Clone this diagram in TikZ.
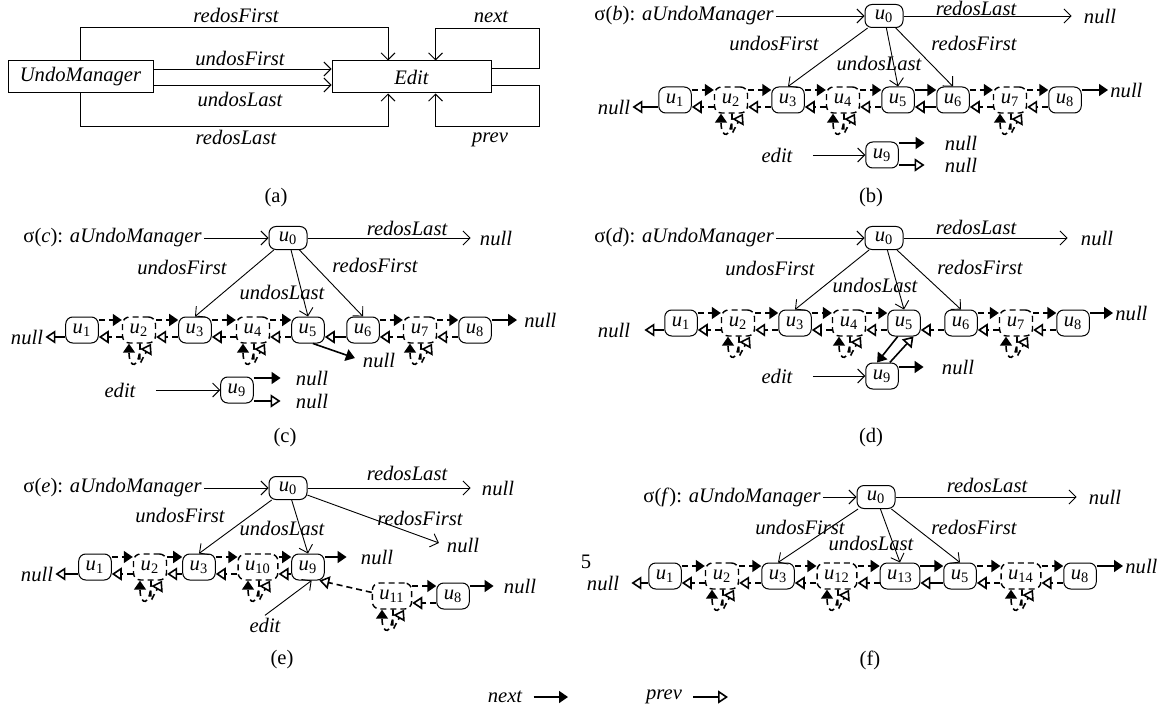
\documentclass[tikz,border=0pt]{standalone}
\usepackage{fontspec}
\setmainfont{Liberation Serif}
\usetikzlibrary{arrows.meta}

\begin{document}
\begin{tikzpicture}[x=0.5pt,y=-0.5pt,
  every node/.style={font=\fontsize{10.3}{12}\selectfont, inner sep=1pt},
  lbl/.style={font=\fontsize{10.3}{12}\selectfont\itshape},
  box/.style={draw, line width=0.5pt, minimum height=16pt, inner sep=0pt},
  obj/.style={draw, line width=0.5pt, rounded corners=3.5pt, minimum width=14.5pt, minimum height=13pt, inner xsep=3.5pt, inner ysep=1pt},
  dobj/.style={obj, line width=0.7pt, dash pattern=on 3pt off 2pt, minimum width=16.5pt},
  top/.style={obj, minimum width=19pt, minimum height=11.5pt},
  dsh/.style={dash pattern=on 3pt off 2pt},
  ref/.style={-{Straight Barb[length=3.5pt,width=7pt]}, line width=0.45pt},
  nxt/.style={-{Triangle[length=4.5pt,width=6pt]}, line width=0.8pt},
  prv/.style={-{Triangle[open,length=5pt,width=6.5pt]}, line width=0.8pt},
]
\useasboundingbox (0,0) rectangle (1166,711);

% (a) class view
\node[box, lbl, minimum width=72.5pt] (um) at (80.5,77) {UndoManager};
\node[box, lbl, minimum width=79.5pt] (ed) at (411.5,77) {Edit};
\draw[ref] (um.north) -- ++(0,-33) -| ([xshift=-11.75pt]ed.north);
\draw[ref] (um.south) -- ++(0,33) -| ([xshift=-11.75pt]ed.south);
\draw[ref] ([yshift=4pt]um.east) -- ([yshift=4pt]ed.west);
\draw[ref] ([yshift=-4pt]um.east) -- ([yshift=-4pt]ed.west);
\draw[ref] ([yshift=4.5pt]ed.east) -| ++(48,-40) -| ([xshift=12pt]ed.north);
\draw[ref] ([yshift=-4pt]ed.east) -| ++(48,41) -| ([xshift=12pt]ed.south);
\node[lbl] (arf) at (236,15) {redosFirst};
\node[lbl] (auf) at (240,58) {undosFirst};
\node[lbl] (aul) at (240,99) {undosLast};
\node[lbl] (arl) at (236,137) {redosLast};
\node[lbl] (anx) at (491,17) {next};
\node[lbl] (apv) at (490,140) {prev};
\node (acap) at (276,198) {(a)};

% (b)
\node[anchor=west] (bsig) at (592,16) {σ(\textit{b}): \textit{aUndoManager}};
\node[top] (b0) at (884,16) {\textit{u}\textsubscript{0}};
\node[lbl] (bnull0) at (1100,16) {null};
\draw[ref] (bsig) -- (b0);
\draw[ref, shorten >=5pt] (b0) -- (bnull0);
\node[lbl] (brl) at (976,8) {redosLast};
\node[lbl] (buf) at (774,43) {undosFirst};
\node[lbl] (bul) at (879,63) {undosLast};
\node[lbl] (brf) at (974,43) {redosFirst};
\foreach \i/\x/\st in {1/675/obj,2/731/dobj,3/788/obj,4/843/dobj,5/898/obj,6/953/obj,7/1010/dobj,8/1065/obj}
  \node[\st] (b\i) at (\x,100) {\textit{u}\textsubscript{\i}};
\draw[ref] (b0) -- (b3.north);
\draw[ref] (b0) -- (b5.north);
\draw[ref] (b0) -- (b6.north);
\foreach \p/\q/\st in {b1/b2/dsh,b2/b3/dsh,b3/b4/dsh,b4/b5/dsh,b5/b6/solid,b6/b7/dsh,b7/b8/dsh} {
  \draw[nxt,\st] ([yshift=5pt]\p.east) -- ([yshift=5pt]\q.west);
  \draw[prv,\st] ([yshift=-3.5pt]\q.west) -- ([yshift=-3.5pt]\p.east);
}
\node[lbl] (bnull1) at (614,107) {null};
\draw[prv] ([yshift=-3.5pt]b1.west) -- (bnull1.east);
\node[lbl, anchor=west] (bnull2) at (1108,90) {null};
\draw[nxt] ([yshift=5pt]b8.east) -- (bnull2.west);
\node[lbl] (bedit) at (777,155) {edit};
\node[obj] (b9) at (882,155) {\textit{u}\textsubscript{9}};
\draw[ref, shorten <=9pt] (bedit) -- (b9);
\node[lbl] (bnull3) at (961,143) {null};
\node[lbl] (bnull4) at (961,165) {null};
\draw[nxt, shorten >=9pt] ([yshift=6pt]b9.east) -- (bnull3.west);
\draw[prv, shorten >=9pt] ([yshift=-5pt]b9.east) -- (bnull4.west);
\node (bcap) at (871,198) {(b)};

% (c)
\node[anchor=west] (csig) at (21,238) {σ(\textit{c}): \textit{aUndoManager}};
\node[top] (c0) at (288,238) {\textit{u}\textsubscript{0}};
\node[lbl] (cnull0) at (496,238) {null};
\draw[ref] (csig) -- (c0);
\draw[ref, shorten >=3.5pt] (c0) -- (cnull0);
\node[lbl] (crl) at (407,228) {redosLast};
\node[lbl] (cuf) at (182,267) {undosFirst};
\node[lbl] (cul) at (282,292) {undosLast};
\node[lbl] (crf) at (375,265) {redosFirst};
\foreach \i/\x/\st in {1/82/obj,2/139/dobj,3/195/obj,4/253/dobj,5/308/obj,6/363/obj,7/420/dobj,8/475/obj}
  \node[\st] (c\i) at (\x,330) {\textit{u}\textsubscript{\i}};
\draw[ref] (c0) -- (c3.north);
\draw[ref] (c0) -- (c5.north);
\draw[ref] (c0) -- (c6.north);
\foreach \p/\q/\st in {c1/c2/dsh,c2/c3/dsh,c3/c4/dsh,c4/c5/dsh,c6/c7/dsh,c7/c8/dsh} {
  \draw[nxt,\st] ([yshift=5pt]\p.east) -- ([yshift=5pt]\q.west);
  \draw[prv,\st] ([yshift=-3.5pt]\q.west) -- ([yshift=-3.5pt]\p.east);
}
\draw[prv] ([yshift=-3.5pt]c6.west) -- ([yshift=-3.5pt]c5.east);
\node[lbl] (cnull1) at (27,337) {null};
\draw[prv] ([yshift=-3.5pt]c1.west) -- (cnull1.east);
\node[lbl, anchor=west] (cnull2) at (522,320) {null};
\draw[nxt, shorten >=2.5pt] ([yshift=5pt]c8.east) -- (cnull2.west);
\node[lbl] (cnull3) at (379,360) {null};
\draw[nxt, shorten >=3pt] (c5.-70) -- (cnull3.west);
\node[lbl] (cedit) at (120,390) {edit};
\node[obj] (c9) at (237,390) {\textit{u}\textsubscript{9}};
\draw[ref, shorten <=9pt] (cedit) -- (c9);
\node[lbl] (cnull4) at (312,378) {null};
\node[lbl] (cnull5) at (312,401) {null};
\draw[nxt, shorten >=6.5pt] ([yshift=6pt]c9.east) -- (cnull4.west);
\draw[prv, shorten >=6.5pt] ([yshift=-5.5pt]c9.east) -- (cnull5.west);
\node (ccap) at (285,438) {(c)};

% (d)
\node[anchor=west] (dsig) at (592,238) {σ(\textit{d}): \textit{aUndoManager}};
\node[top] (d0) at (884,238) {\textit{u}\textsubscript{0}};
\node[lbl] (dnull0) at (1097,238) {null};
\draw[ref] (dsig) -- (d0);
\draw[ref, shorten >=5.5pt] (d0) -- (dnull0);
\node[lbl] (drl) at (976,227) {redosLast};
\node[lbl] (duf) at (770,268) {undosFirst};
\node[lbl] (dul) at (875,285) {undosLast};
\node[lbl] (drf) at (980,267) {redosFirst};
\foreach \i/\x/\st in {1/681/obj,2/738/dobj,3/795/obj,4/849/dobj,5/904/obj,6/961/obj,7/1016/dobj,8/1073/obj}
  \node[\st] (d\i) at (\x,323) {\textit{u}\textsubscript{\i}};
\draw[ref] (d0) -- (d3.north);
\draw[ref] (d0) -- (d5.north);
\draw[ref] (d0) -- (d6.north);
\foreach \p/\q/\st in {d1/d2/dsh,d2/d3/dsh,d3/d4/dsh,d4/d5/dsh,d6/d7/dsh,d7/d8/dsh} {
  \draw[nxt,\st] ([yshift=5pt]\p.east) -- ([yshift=5pt]\q.west);
  \draw[prv,\st] ([yshift=-3.5pt]\q.west) -- ([yshift=-3.5pt]\p.east);
}
\draw[prv,dsh] ([yshift=-3.5pt]d6.west) -- ([yshift=-3.5pt]d5.east);
\node[lbl] (dnull1) at (614,330) {null};
\draw[prv, shorten >=6pt] ([yshift=-3.5pt]d1.west) -- (dnull1.east);
\node[lbl, anchor=west] (dnull2) at (1113,313) {null};
\draw[nxt] ([yshift=5pt]d8.east) -- (dnull2.west);
\node[lbl] (dedit) at (777,376) {edit};
\node[obj] (d9) at (882,376) {\textit{u}\textsubscript{9}};
\draw[ref, shorten <=9pt] (dedit) -- (d9);
\draw[nxt] (d5.-115) -- (d9.110);
\draw[prv] (d9.60) -- (d5.-55);
\node[lbl] (dnull3) at (958,367) {null};
\draw[nxt, shorten >=8pt] ([yshift=4.5pt]d9.east) -- (dnull3.west);
\node (dcap) at (871,438) {(d)};

% (e)
\node[anchor=west] (esig) at (21,488) {σ(\textit{e}): \textit{aUndoManager}};
\node[top] (e0) at (288,488) {\textit{u}\textsubscript{0}};
\node[lbl] (enull0) at (498,488) {null};
\draw[ref] (esig) -- (e0);
\draw[ref, shorten >=4.5pt] (e0) -- (enull0);
\node[lbl] (erl) at (407,473) {redosLast};
\node[lbl] (euf) at (180,515) {undosFirst};
\node[lbl] (eul) at (282,528) {undosLast};
\node[lbl] (erf) at (420,518) {redosFirst};
\node[lbl] (enull1) at (463,545) {null};
\draw[ref, shorten >=3pt] (e0) -- (enull1.west);
\foreach \i/\x/\st in {1/95/obj,2/150/dobj,3/199/obj,10/258/dobj,9/308/obj}
  \node[\st] (e\i) at (\x,567) {\textit{u}\textsubscript{\i}};
\draw[ref] (e0) -- (e3.north);
\draw[ref] (e0) -- (e9.north);
\foreach \p/\q/\st in {e1/e2/dsh,e2/e3/dsh,e3/e10/dsh,e10/e9/dsh} {
  \draw[nxt,\st] ([yshift=5pt]\p.east) -- ([yshift=5pt]\q.west);
  \draw[prv,\st] ([yshift=-3.5pt]\q.west) -- ([yshift=-3.5pt]\p.east);
}
\node[lbl] (enull2) at (37,574) {null};
\draw[prv] ([yshift=-3.5pt]e1.west) -- (enull2.east);
\node[lbl] (enull3) at (377,557) {null};
\draw[nxt, shorten >=6pt] ([yshift=5pt]e9.east) -- (enull3.west);
\node[dobj] (e11) at (392,596) {\textit{u}\textsubscript{11}};
\node[obj] (e8) at (453,596) {\textit{u}\textsubscript{8}};
\draw[nxt,dsh] ([yshift=5pt]e11.east) -- ([yshift=5pt]e8.west);
\draw[prv,dsh] ([yshift=-3.5pt]e8.west) -- ([yshift=-3.5pt]e11.east);
\node[lbl] (enull4) at (520,586) {null};
\draw[nxt, shorten >=4pt] ([yshift=5pt]e8.east) -- (enull4.west);
\draw[prv,dsh] (e11.170) -- (e9.-50);
\node[lbl] (eedit) at (265,625) {edit};
\draw[ref] (eedit.north) -- (e9.-75);
\node (ecap) at (282,660) {(e)};

% (f)
\node[anchor=west] (fsig) at (641,497) {σ(\textit{f}): \textit{aUndoManager}};
\node[top] (f0) at (876,497) {\textit{u}\textsubscript{0}};
\node[lbl] (fnull0) at (1105,497) {null};
\draw[ref] (fsig) -- (f0);
\draw[ref, shorten >=5pt] (f0) -- (fnull0);
\node[lbl] (frl) at (987,485) {redosLast};
\node[lbl] (fuf) at (800,527) {undosFirst};
\node[lbl] (ful) at (871,543) {undosLast};
\node[lbl] (frf) at (974,527) {redosFirst};
\foreach \i/\x/\st in {1/665/obj,2/722/dobj,3/778/obj,12/837/dobj,13/900/obj,5/960/obj,14/1021/dobj,8/1080/obj}
  \node[\st] (f\i) at (\x,576) {\textit{u}\textsubscript{\i}};
\draw[ref] (f0) -- (f3.north);
\draw[ref] (f0) -- (f13.north);
\draw[ref] (f0) -- (f5.north);
\foreach \p/\q/\st in {f1/f2/dsh,f2/f3/dsh,f3/f12/dsh,f12/f13/dsh,f13/f5/solid,f5/f14/dsh,f14/f8/dsh} {
  \draw[nxt,\st] ([yshift=5pt]\p.east) -- ([yshift=5pt]\q.west);
  \draw[prv,\st] ([yshift=-3.5pt]\q.west) -- ([yshift=-3.5pt]\p.east);
}
\node[lbl] (fnull1) at (603,583) {null};
\draw[prv, shorten >=5pt] ([yshift=-3.5pt]f1.west) -- (fnull1.east);
\node[lbl, anchor=west] (fnull2) at (1123,566) {null};
\draw[nxt] ([yshift=5pt]f8.east) -- (fnull2.west);
\node (fcap) at (870,660) {(f)};
\node (pgno) at (586,562) {5};

% self references of the removed edits
\foreach \n in {b2,b4,b7,c2,c4,c7,d2,d4,d7,e2,e10,e11,f2,f12,f14} {
  \draw[nxt,dsh] ([xshift=0.5pt]\n.south) to[out=-90,in=-90,distance=13pt] ([xshift=-5pt]\n.south);
  \draw[prv,dsh] ([xshift=0.5pt]\n.south) to[out=-90,in=-120,distance=13pt] ([xshift=6pt]\n.south);
}

% legend
\node[lbl] (lnext) at (505,697) {next};
\coordinate (lnexttip) at (568,697);
\draw[nxt, shorten <=4.5pt] (lnext) -- (lnexttip);
\node[lbl] (lprev) at (664,697) {prev};
\coordinate (lprevtip) at (728,697);
\draw[prv, shorten <=4.5pt] (lprev) -- (lprevtip);
\end{tikzpicture}
\end{document}
